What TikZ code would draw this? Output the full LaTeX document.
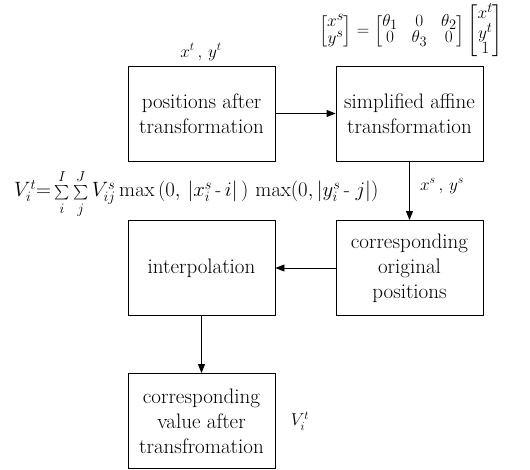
\documentclass[tikz,border=0pt]{standalone}
\usepackage{amsmath}
\usetikzlibrary{arrows.meta}
\newcommand{\smsum}{\mathop{\textstyle\scriptstyle\sum}}
\begin{document}
\begin{tikzpicture}[x=1pt,y=-1pt,
  box/.style={draw,line width=0.9pt,minimum width=147pt,minimum height=95pt,inner sep=2pt,align=center,font=\fontsize{21}{25}\selectfont},
  lbl/.style={font=\fontsize{18}{21}\selectfont,inner sep=0pt},
  arr/.style={line width=0.9pt,-{Triangle[length=9pt,width=7pt]}}]
\useasboundingbox (0,0) rectangle (530,470);
\node[box] (A) at (201.5,113.5) {positions after\\transformation};
\node[box] (B) at (409.5,113.5) {simplified affine\\transformation};
\node[box] (C) at (409.5,268) {corresponding\\original\\positions};
\node[box] (D) at (201.5,268) {interpolation};
\node[box] (E) at (201.5,421) {corresponding\\value after\\transfromation};
\draw[arr] (A) -- (B);
\draw[arr] (B) -- (C);
\draw[arr] (C) -- (D);
\draw[arr] (D) -- (E);
\node[lbl] (lt) at (201,52) {$x^t\,,\,y^t$};
\node[lbl,font=\fontsize{19}{21}\selectfont] (lm) at (411,31) {\renewcommand{\arraystretch}{0.7}\setlength{\arraycolsep}{7pt}$\begin{bmatrix}x^s\\y^s\end{bmatrix}=\begin{bmatrix}\theta_1&0&\theta_2\\0&\theta_3&0\end{bmatrix}\begin{bmatrix}x^t\\y^t\\1\end{bmatrix}$};
\node[lbl] (ls) at (442,186) {$x^s\,,\,y^s$};
\node[lbl,anchor=west,font=\fontsize{20}{22}\selectfont] (lv) at (14,194) {$V_i^t{=}\smsum\limits_i^I\smsum\limits_j^J V_{ij}^s\max\,(0,\,|x_i^s\,\text{-}\,i|\,)\,\max(0,|y_i^s\,\text{-}\;j|)$};
\node[lbl] (le) at (300,421) {$V_i^t$};
\end{tikzpicture}
\end{document}
